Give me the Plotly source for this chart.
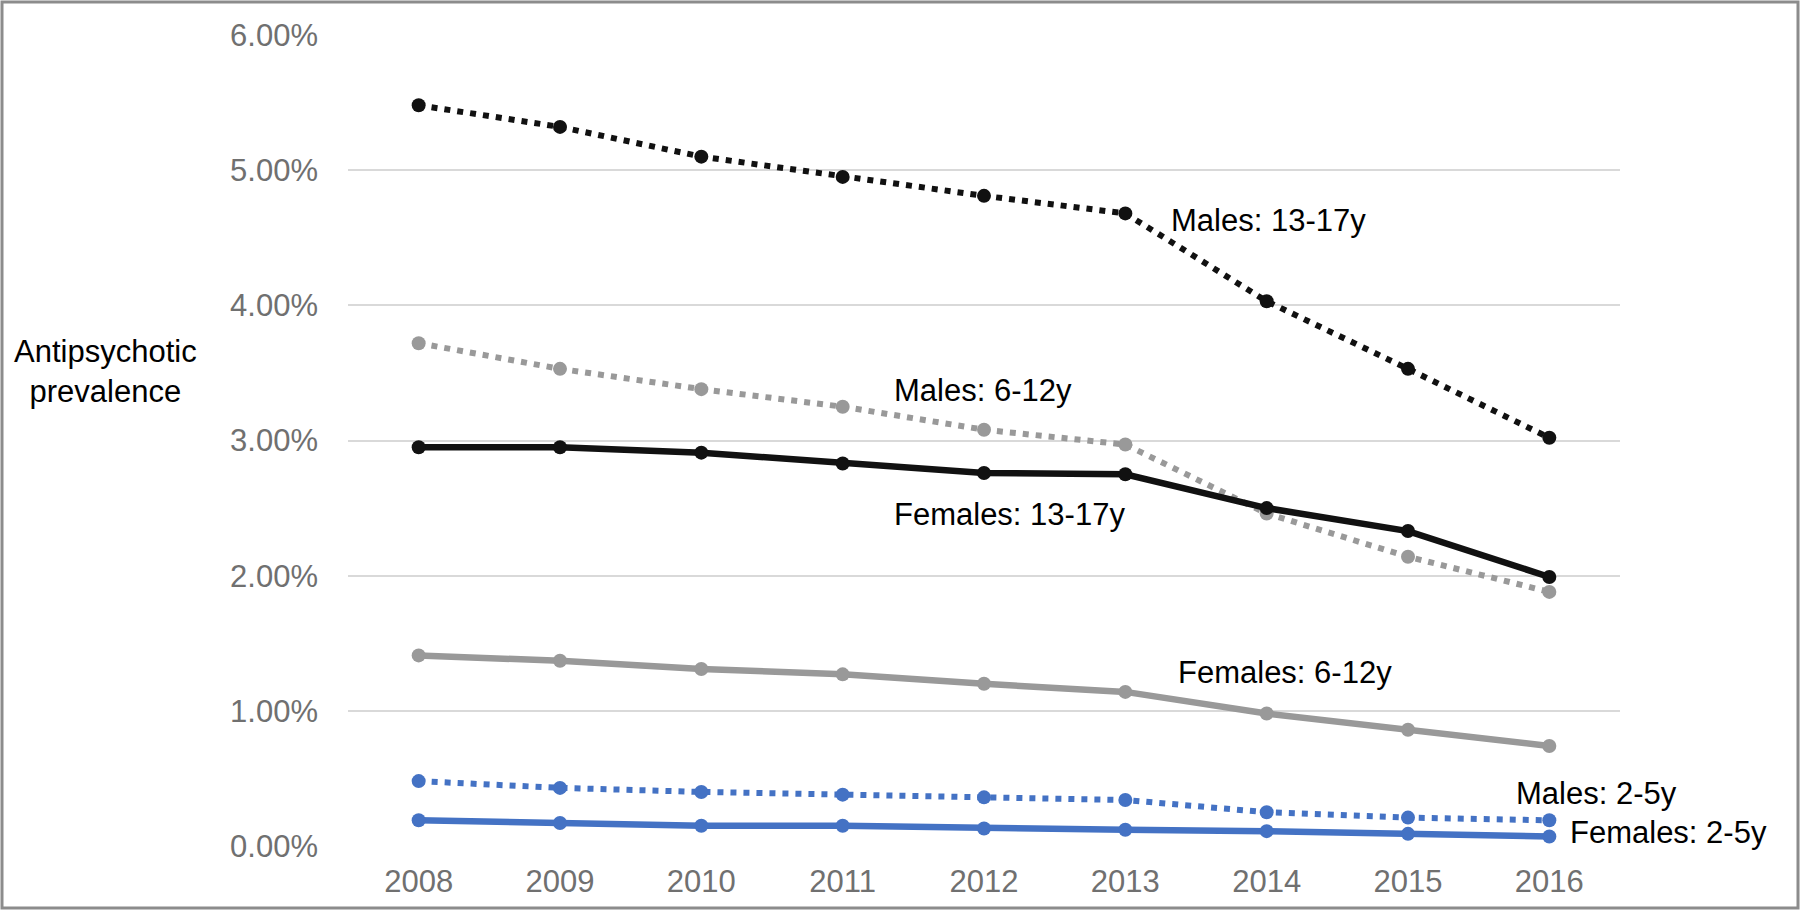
import plotly.graph_objects as go

years = [2008, 2009, 2010, 2011, 2012, 2013, 2014, 2015, 2016]

# prevalence, in percent
males_13_17 = [5.48, 5.32, 5.10, 4.95, 4.81, 4.68, 4.03, 3.53, 3.02]
males_6_12 = [3.72, 3.53, 3.38, 3.25, 3.08, 2.97, 2.46, 2.14, 1.88]
females_13_17 = [2.95, 2.95, 2.91, 2.83, 2.76, 2.75, 2.50, 2.33, 1.99]
females_6_12 = [1.41, 1.37, 1.31, 1.27, 1.20, 1.14, 0.98, 0.86, 0.74]
males_2_5 = [0.48, 0.43, 0.40, 0.38, 0.36, 0.34, 0.25, 0.21, 0.19]
females_2_5 = [0.19, 0.17, 0.15, 0.15, 0.13, 0.12, 0.11, 0.09, 0.07]

y_ticks = [0, 0.01, 0.02, 0.03, 0.04, 0.05, 0.06]

BLACK = "#111111"
GRAY = "#999999"
BLUE = "#4472C4"
TICK = "#707070"
FONT = "Liberation Sans, Arial, sans-serif"

W, H = 1800, 912
ML, MR, MT, MB = 348, 180, 35, 66


def pct(vals):
    return [v / 100 for v in vals]


def series(vals, color, dotted):
    if dotted:
        line = dict(color=color, width=6, dash="6px,7px")
    else:
        line = dict(color=color, width=6.5)
    return go.Scatter(
        x=years, y=pct(vals),
        mode="lines+markers",
        line=line,
        marker=dict(color=color, size=14, symbol="circle"),
        hoverinfo="x+y",
        showlegend=False,
    )


fig = go.Figure(data=[
    series(females_6_12, GRAY, False),
    series(males_6_12, GRAY, True),
    series(females_13_17, BLACK, False),
    series(males_13_17, BLACK, True),
    series(males_2_5, BLUE, True),
    series(females_2_5, BLUE, False),
])

labels = [
    ("Males: 13-17y", 2013.31, 0.0463),
    ("Males: 6-12y", 2011.35, 0.0337),
    ("Females: 13-17y", 2011.35, 0.0245),
    ("Females: 6-12y", 2013.36, 0.0128),
    ("Males: 2-5y", 2015.75, 0.0039),
    ("Females: 2-5y", 2016.13, 0.0010),
]
for text, x, y in labels:
    fig.add_annotation(
        x=x, y=y, xref="x", yref="y", text=text, showarrow=False,
        xanchor="left", yanchor="middle",
        font=dict(family=FONT, size=31, color="#000000"),
    )

pw = W - ML - MR
ph = H - MT - MB
fig.add_annotation(
    x=(106 - ML) / pw, y=(H - MB - 372) / ph, xref="paper", yref="paper",
    text="Antipsychotic<br>prevalence", showarrow=False,
    xanchor="center", yanchor="middle", align="center",
    font=dict(family=FONT, size=31, color="#000000"),
)

# outer frame around the whole picture
fig.add_shape(
    type="rect", xref="paper", yref="paper",
    x0=(2 - ML) / pw, x1=(W - 2 - ML) / pw,
    y0=-(MB - 4) / ph, y1=(H - MB - 2) / ph,
    line=dict(color="#8c8c8c", width=3),
    fillcolor="rgba(0,0,0,0)",
)

fig.update_layout(
    width=W, height=H,
    margin=dict(l=ML, r=MR, t=MT, b=MB),
    paper_bgcolor="white",
    plot_bgcolor="white",
    font=dict(family=FONT, size=31, color=TICK),
    xaxis=dict(
        range=[2007.5, 2016.5],
        tickvals=years, tickformat="d",
        showgrid=False, zeroline=False, showline=False,
        ticks="", ticklabelstandoff=14,
        tickfont=dict(family=FONT, size=31, color=TICK),
    ),
    yaxis=dict(
        range=[0, 0.06],
        tickvals=y_ticks, tickformat=".2%",
        showgrid=True, gridcolor="#d9d9d9", gridwidth=2,
        zeroline=False, showline=False,
        ticks="", ticklabelstandoff=29,
        tickfont=dict(family=FONT, size=31, color=TICK),
    ),
)

fig.write_html(
    "out.html",
    config={"displayModeBar": False},
    post_script="document.body.style.margin='0';",
)
